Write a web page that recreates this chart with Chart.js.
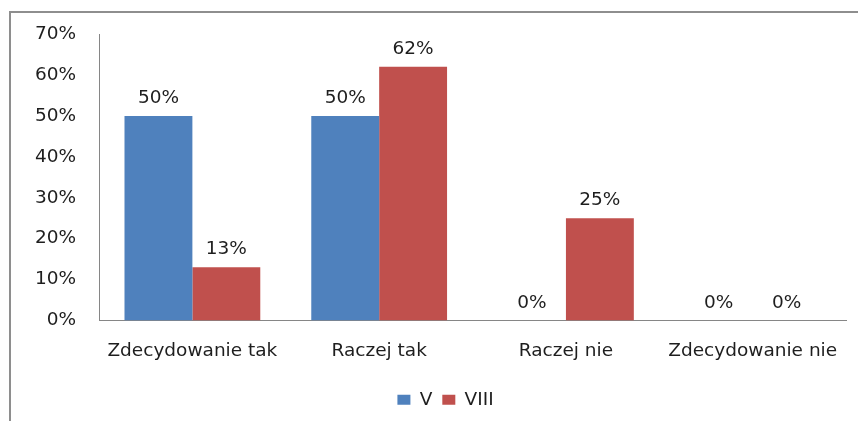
<!DOCTYPE html>
<html lang="pl">
<head>
  <meta charset="UTF-8">
  <title>Zdecydowanie tak / nie</title>
  <script src="https://cdn.jsdelivr.net/npm/chart.js"></script>
  <style>
    body {
      margin: 0;
      background: #fff;
      overflow: hidden;
    }
    #chart {
      position: absolute;
      left: 0;
      top: 0;
    }
    .frame {
      position: absolute;
      left: 9px;
      top: 11px;
      width: 900px;
      height: 500px;
      border-left: 2px solid #8e8e8e;
      border-top: 2px solid #8e8e8e;
      pointer-events: none;
    }
  </style>
</head>
<body>

<canvas id="chart" width="858" height="421"></canvas>
<div class="frame"></div>

<script>
  // Data
  const categories = ['Zdecydowanie tak', 'Raczej tak', 'Raczej nie', 'Zdecydowanie nie'];
  const seriesV = [50, 50, 0, 0];
  const seriesVIII = [13, 62, 25, 0];
  const yTicks = [0, 10, 20, 30, 40, 50, 60, 70];

  const textColor = '#1e1e1e';
  const font = { family: 'DejaVu Sans', size: 18.5 };

  // value labels above the bars
  const valueLabels = {
    id: 'valueLabels',
    afterDatasetsDraw(chart) {
      const ctx = chart.ctx;
      ctx.save();
      ctx.font = font.size + 'px ' + font.family;
      ctx.fillStyle = textColor;
      ctx.textAlign = 'center';
      ctx.textBaseline = 'alphabetic';
      chart.data.datasets.forEach((ds, i) => {
        chart.getDatasetMeta(i).data.forEach((bar, j) => {
          ctx.fillText(ds.data[j] + '%', bar.x, bar.y - 13);
        });
      });
      ctx.restore();
    }
  };

  // the legend sits a bit right of centre in the original
  const legendShift = {
    id: 'legendShift',
    afterLayout(chart) {
      chart.legend.left += 22;
      chart.legend.right += 22;
    }
  };

  new Chart(document.getElementById('chart'), {
    type: 'bar',
    data: {
      labels: categories,
      datasets: [
        { label: 'V', data: seriesV, backgroundColor: '#4f81bd' },
        { label: 'VIII', data: seriesVIII, backgroundColor: '#c0504d' }
      ]
    },
    options: {
      responsive: false,
      animation: false,
      layout: { padding: { left: 0, top: 33, right: 11, bottom: 2 } },
      datasets: { bar: { categoryPercentage: 0.727, barPercentage: 1 } },
      scales: {
        x: {
          grid: { display: false, drawTicks: false },
          border: { display: true, color: '#868686', width: 1 },
          ticks: { color: textColor, font: font, padding: 19.5, maxRotation: 0 },
          afterFit(scale) { scale.height = 60; }
        },
        y: {
          min: 0,
          max: 70,
          afterBuildTicks(scale) { scale.ticks = yTicks.map(v => ({ value: v })); },
          grid: { display: false, drawTicks: false },
          border: { display: true, color: '#868686', width: 1 },
          ticks: { color: textColor, font: font, padding: 23, callback: v => v + '%' },
          afterFit(scale) { scale.width = 99; }
        }
      },
      plugins: {
        legend: {
          position: 'bottom',
          labels: { color: textColor, font: font, boxWidth: 13, boxHeight: 10, padding: 10 }
        },
        tooltip: { enabled: false }
      }
    },
    plugins: [valueLabels, legendShift]
  });
</script>

</body>
</html>
